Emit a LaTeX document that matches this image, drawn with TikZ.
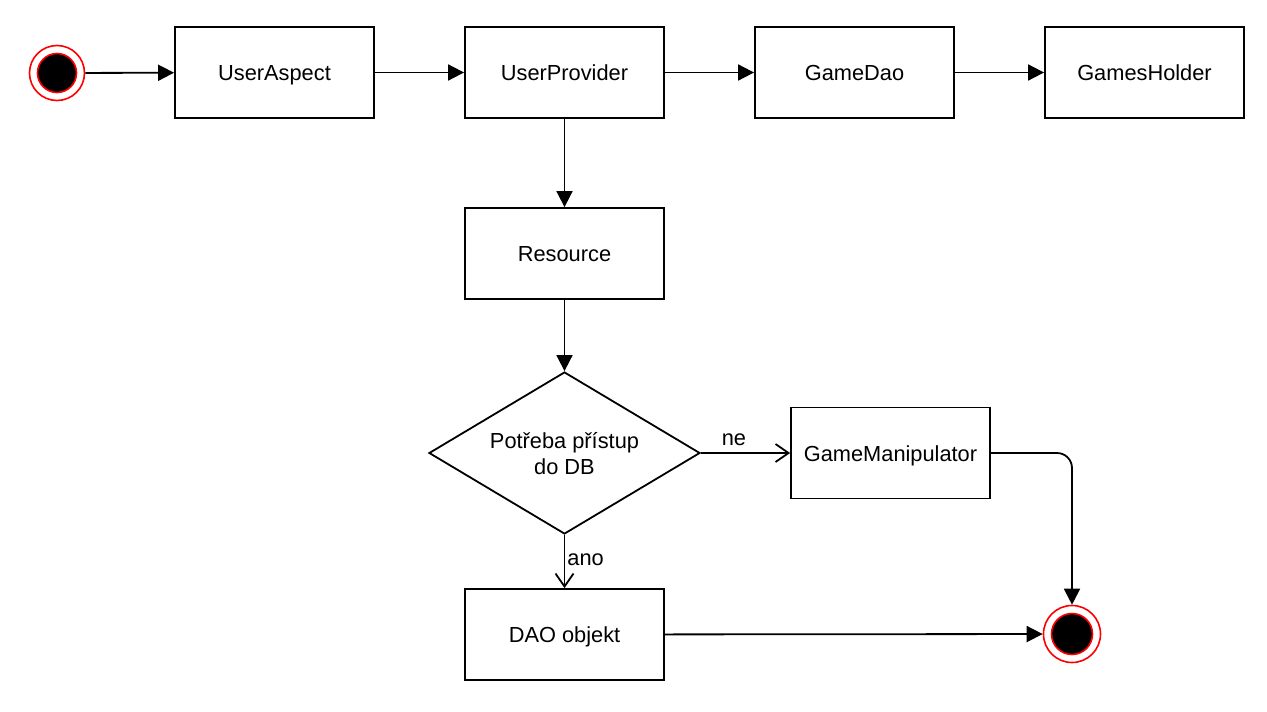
\documentclass[tikz,border=0pt]{standalone}
\usepackage{fontspec}
\setmainfont{Liberation Sans}
\usetikzlibrary{arrows.meta,shapes.geometric}
\begin{document}
\begin{tikzpicture}[x=1pt,y=-1pt,
  every node/.style={font=\fontsize{21.8}{26}\selectfont},
  box/.style={draw, line width=1.8pt, minimum width=199pt, minimum height=91pt, inner sep=0pt, text height=16pt, text depth=0pt},
  dec/.style={draw, line width=1.8pt, diamond, minimum width=271pt, minimum height=162pt, inner sep=0pt},
  dectext/.style={align=center, inner sep=0pt},
  outer/.style={circle, draw=red, line width=1.6pt, minimum size=55pt, inner sep=0pt},
  inner/.style={circle, draw=red, fill=black, line width=1.6pt, minimum size=39pt, inner sep=0pt},
  flow/.style={line width=1.8pt, -{Triangle[length=16pt,width=16pt]}},
  open/.style={line width=1.8pt, -{Straight Barb[length=13pt,width=18pt,line width=1.8pt]}},
  lbl/.style={inner sep=0pt}
]
\useasboundingbox (0,0) rectangle (1267,712);
\node[outer] (start) at (57,73) {};
\node[inner] (starti) at (57,73) {};
\node[box] (ua) at (274.5,72.5) {UserAspect};
\node[box] (up) at (564.5,72.5) {UserProvider};
\node[box] (gd) at (854.5,72.5) {GameDao};
\node[box] (gh) at (1144.5,72.5) {GamesHolder};
\node[box] (res) at (564.5,253.5) {Resource};
\node[dec] (dec) at (564.5,453) {};
\node[dectext] (dect) at (564.5,454) {Potřeba přístup\\do DB};
\node[box] (gm) at (890.5,453) {GameManipulator};
\node[box] (dao) at (564.5,634.5) {DAO objekt};
\node[outer, minimum size=57pt] (end) at (1072,634) {};
\node[inner, minimum size=41pt] (endi) at (1072,634) {};
\draw[flow] (start) -- (ua);
\draw[flow] (ua) -- (up);
\draw[flow] (up) -- (gd);
\draw[flow] (gd) -- (gh);
\draw[flow] (up) -- (res);
\draw[flow] (res) -- (dec);
\draw[open] (dec) -- node[lbl, above, pos=0.37, yshift=6pt] {ne} (gm);
\draw[open] (dec) -- node[lbl, right, pos=0.47, xshift=2pt] {ano} (dao);
\draw[flow, rounded corners=15pt] (gm.east) -| (end.north);
\draw[flow] (dao) -- (end);
\end{tikzpicture}
\end{document}
